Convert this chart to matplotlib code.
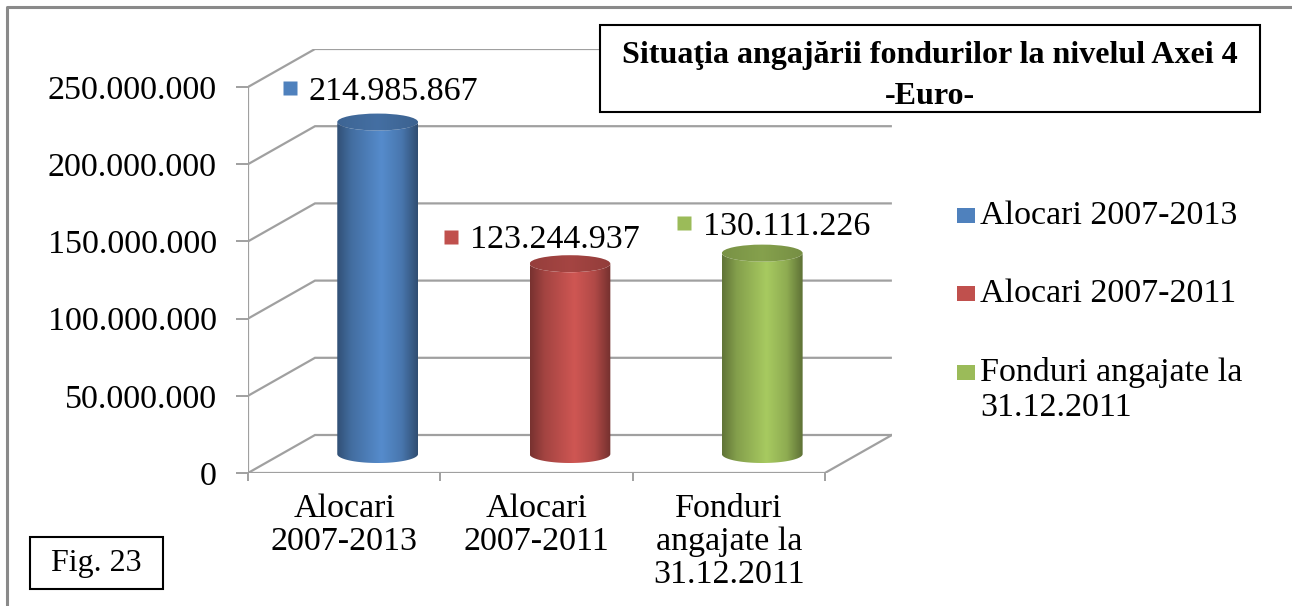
import numpy as np
import matplotlib
matplotlib.use("Agg")
import matplotlib.pyplot as plt
from matplotlib.patches import Polygon, Ellipse, Rectangle
from matplotlib.lines import Line2D
from matplotlib.colors import LinearSegmentedColormap, to_rgb
from matplotlib.transforms import offset_copy

# ---------------- data ----------------
categories = ["Alocari\n2007-2013", "Alocari\n2007-2011", "Fonduri\nangajate la\n31.12.2011"]
series_names = ["Alocari 2007-2013", "Alocari 2007-2011", "Fonduri angajate la\n31.12.2011"]
values = [214985867, 123244937, 130111226]
value_labels = ["214.985.867", "123.244.937", "130.111.226"]
yticks = [0, 50000000, 100000000, 150000000, 200000000, 250000000]
ytick_labels = ["0", "50.000.000", "100.000.000", "150.000.000", "200.000.000", "250.000.000"]
title_text = "Situaţia angajării fondurilor la nivelul Axei 4\n-Euro-"
fig_label = "Fig. 23"

# ---------------- style ----------------
colors = ["#4F81BD", "#C0504D", "#9BBB59"]
plt.rcParams["font.family"] = ["Liberation Serif", "DejaVu Serif"]
FS = 24.5
GRID = "#A0A0A0"
GLW = 1.6

W, H = 1292, 606
fig = plt.figure(figsize=(W / 100, H / 100), dpi=100)
fig.patch.set_facecolor("white")

# 3D-like frame geometry (pixels)
X0, Y0 = 248, 473          # front-left-bottom corner of the plot
CAT_PX = 192.3             # width of one category on the front plane
PX_PER_VAL = 386 / 250e6   # vertical pixels per value unit
DEPTH = (67, 38)           # depth offset of the back wall
DX = DEPTH[0] / CAT_PX
DY = DEPTH[1] / PX_PER_VAL
n = len(categories)
XMAX = n + DX
YMAX = yticks[-1] + DY

ax = fig.add_axes([X0 / W, (H - Y0) / H, XMAX * CAT_PX / W, YMAX * PX_PER_VAL / H])
ax.patch.set_visible(False)
for s in ax.spines.values():
    s.set_visible(False)

# gridlines on side + back walls
for v in yticks:
    ax.plot([0, DX, XMAX], [v, v + DY, v + DY], color=GRID, lw=GLW, zorder=1,
            solid_capstyle="butt", solid_joinstyle="miter")
# floor front + right edge
ax.plot([0, n, XMAX], [0, 0, DY], color=GRID, lw=GLW, zorder=1, solid_joinstyle="miter")
# front vertical axis
ax.plot([0, 0], [0, yticks[-1]], color=GRID, lw=GLW, zorder=1)

# ticks
ax.set_yticks(yticks, ytick_labels, fontsize=FS)
ax.set_xticks([i + 0.5 for i in range(n)], categories, fontsize=FS, linespacing=1.1)
ax.set_xticks(list(range(n + 1)), minor=True)
ax.tick_params(axis="y", length=8.5, width=1.4, color=GRID, pad=14)
ax.tick_params(axis="x", which="major", length=0, pad=15)
ax.tick_params(axis="x", which="minor", length=6, width=1.4, color=GRID)


def shade(c, f):
    r, g, b = to_rgb(c)
    return (min(1, r * f), min(1, g * f), min(1, b * f))


half_w = 0.21
ry_top = 8.5 / PX_PER_VAL
ry_bot = 9.0 / PX_PER_VAL
t = np.linspace(np.pi, 2 * np.pi, 80)
grad = np.linspace(0, 1, 256).reshape(1, -1)

label_offsets = [(-88, 34), (-119, 27), (-78, 30)]  # px from cylinder top to marker

for i, (v, c, lab) in enumerate(zip(values, colors, value_labels)):
    cx = i + 0.5 + DX / 2
    base = DY / 2
    top = v + DY / 2
    bottom_arc = np.column_stack([cx + half_w * np.cos(t), base + ry_bot * np.sin(t)])
    top_arc = np.column_stack([cx + half_w * np.cos(t[::-1]), top + ry_top * np.sin(t[::-1])])
    body = Polygon(np.vstack([bottom_arc, top_arc]), closed=True, facecolor="none",
                   edgecolor="none", zorder=3)
    ax.add_patch(body)
    side_cmap = LinearSegmentedColormap.from_list(
        "side", [(0, shade(c, 0.62)), (0.18, shade(c, 0.85)), (0.55, shade(c, 1.08)),
                 (0.8, shade(c, 0.92)), (1, shade(c, 0.6))])
    im = ax.imshow(grad, cmap=side_cmap, extent=[cx - half_w, cx + half_w, base - ry_bot, top],
                   aspect="auto", zorder=3, interpolation="bilinear", origin="lower")
    im.set_clip_path(body)
    ell = Ellipse((cx, top), 2 * half_w, 2 * ry_top, facecolor="none", edgecolor="none", zorder=4)
    ax.add_patch(ell)
    top_cmap = LinearSegmentedColormap.from_list(
        "top", [(0, shade(c, 0.78)), (0.5, shade(c, 0.86)), (1, shade(c, 0.76))])
    im2 = ax.imshow(grad, cmap=top_cmap, extent=[cx - half_w, cx + half_w, top - ry_top, top + ry_top],
                    aspect="auto", zorder=4, interpolation="bilinear", origin="lower")
    im2.set_clip_path(ell)

    ox, oy = label_offsets[i]
    tr_m = offset_copy(ax.transData, fig=fig, x=ox, y=oy, units="dots")
    ax.plot([cx], [top], marker="s", ms=10.5, color=c, mec="none", transform=tr_m,
            zorder=5, clip_on=False)
    tr_t = offset_copy(ax.transData, fig=fig, x=ox + 19, y=oy, units="dots")
    ax.text(cx, top, lab, transform=tr_t, fontsize=FS, ha="left", va="center_baseline",
            zorder=5, clip_on=False)

ax.set_xlim(0, XMAX)
ax.set_ylim(0, YMAX)

# legend (manual, marker aligned with first line)
leg_rows_y = [215, 293, 372]
for name, c, y in zip(series_names, colors, leg_rows_y):
    fig.patches.append(Rectangle((957 / W, (H - y - 7.5) / H), 18 / W, 15 / H,
                                 transform=fig.transFigure, facecolor=c, edgecolor="none"))
    fig.text(980 / W, (H - y + 15) / H, name, fontsize=FS, ha="left", va="top", linespacing=1.2)

# title box
fig.patches.append(Rectangle((600 / W, (H - 112) / H), 660 / W, 87 / H, transform=fig.transFigure,
                             facecolor="white", edgecolor="black", lw=1.5, zorder=5))
fig.text(930 / W, (H - 76) / H, title_text, fontsize=23, fontweight="bold", ha="center",
         va="center", linespacing=1.5, zorder=6)

# "Fig. 23" box
fig.patches.append(Rectangle((30 / W, (H - 589) / H), 133 / W, 52 / H, transform=fig.transFigure,
                             facecolor="white", edgecolor="black", lw=1.5))
fig.text(96 / W, (H - 563) / H, fig_label, fontsize=23, ha="center", va="center")

# outer border (top & left visible)
fig.add_artist(Line2D([7 / W, 7 / W, 1.0], [0.0, (H - 7) / H, (H - 7) / H],
                      transform=fig.transFigure, color="#8A8A8A", lw=2.2))

fig.savefig("out.png", dpi=100)
